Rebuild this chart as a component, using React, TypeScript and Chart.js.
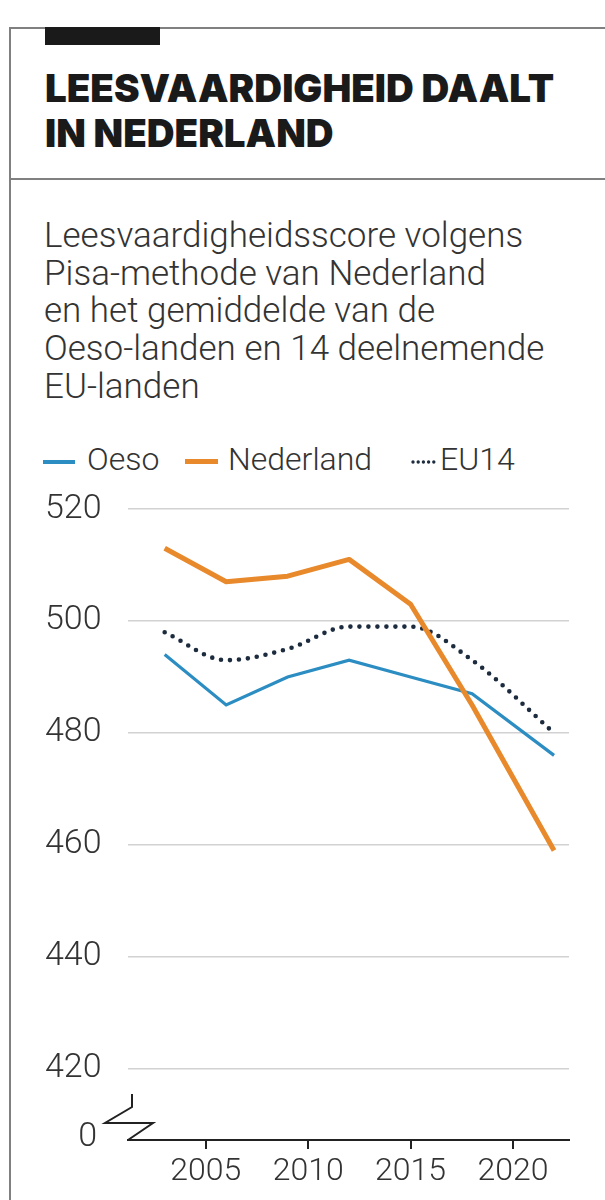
import React, { useEffect, useRef } from "react";
import { Chart, registerables } from "chart.js";

Chart.register(...registerables);

// ---- data ----
const years = [2003, 2006, 2009, 2012, 2015, 2018, 2022];
const oeso = [494, 485, 490, 493, 490, 487, 476];
const nederland = [513, 507, 508, 511, 503, 485, 459];
const eu14 = [498, 493, 495, 499, 499, 493, 480];
const yTicks = [420, 440, 460, 480, 500, 520];
const xTicks = [2005, 2010, 2015, 2020];
const breakLabel = "0";
const titleLines = ["LEESVAARDIGHEID DAALT", "IN NEDERLAND"];
const subtitleLines = [
  "Leesvaardigheidsscore volgens",
  "Pisa-methode van Nederland",
  "en het gemiddelde van de",
  "Oeso-landen en 14 deelnemende",
  "EU-landen",
];
const legendLabels = ["Oeso", "Nederland", "EU14"];

const BLUE = "#2b8dc2";
const ORANGE = "#e8892b";
const NAVY = "#1c2b3d";
const TEXT = "#333333";

export default function App() {
  const canvasRef = useRef<HTMLCanvasElement>(null);

  useEffect(() => {
    if (!canvasRef.current) return;
    const pts = (vals: number[]) => years.map((x, i) => ({ x, y: vals[i] }));

    const breakPlugin = {
      id: "axisBreak",
      afterDraw(chart: any) {
        const { ctx, chartArea } = chart;
        const x0 = chartArea.left;
        const y0 = chartArea.bottom;
        ctx.save();
        ctx.strokeStyle = "#222";
        ctx.lineWidth = 2;
        ctx.beginPath();
        ctx.moveTo(x0 + 4, y0 - 46);
        ctx.lineTo(x0 + 4, y0 - 33);
        ctx.lineTo(x0 - 23, y0 - 17);
        ctx.lineTo(x0 + 25, y0 - 17);
        ctx.lineTo(x0, y0);
        ctx.stroke();
        ctx.fillStyle = TEXT;
        ctx.font = "300 34px Roboto";
        ctx.textAlign = "right";
        ctx.textBaseline = "middle";
        ctx.fillText(breakLabel, x0 - 31, y0 - 3);
        ctx.restore();
      },
    };

    const chart = new Chart(canvasRef.current, {
      type: "line",
      data: {
        datasets: [
          {
            label: legendLabels[1],
            data: pts(nederland),
            borderColor: ORANGE,
            borderWidth: 5,
            pointRadius: 0,
            tension: 0,
            borderJoinStyle: "round",
          },
          {
            label: legendLabels[0],
            data: pts(oeso),
            borderColor: BLUE,
            borderWidth: 3.2,
            pointRadius: 0,
            tension: 0,
          },
          {
            label: legendLabels[2],
            data: pts(eu14),
            borderColor: NAVY,
            borderWidth: 4.6,
            borderDash: [0, 9],
            borderCapStyle: "round",
            pointRadius: 0,
            cubicInterpolationMode: "monotone",
          },
        ],
      },
      options: {
        animation: false,
        responsive: false,
        maintainAspectRatio: false,
        devicePixelRatio: 1,
        layout: { padding: { left: 45, top: 39, right: 36, bottom: 0 } },
        plugins: { legend: { display: false }, tooltip: { enabled: false } },
        scales: {
          x: {
            type: "linear",
            position: "bottom",
            min: 2001.21,
            max: 2022.73,
            afterBuildTicks: (s: any) => {
              s.ticks = xTicks.map((v) => ({ value: v }));
            },
            afterFit: (s: any) => {
              s.height = 60;
            },
            ticks: {
              callback: (v: any) => String(v),
              color: TEXT,
              font: { family: "Roboto", size: 32, weight: "300" },
              padding: 4,
              maxRotation: 0,
              autoSkip: false,
            },
            grid: {
              drawOnChartArea: false,
              drawTicks: true,
              tickLength: 9,
              color: "#222",
              lineWidth: 2,
            },
            border: { display: true, color: "#222", width: 2 },
          },
          y: {
            type: "linear",
            min: 407.3,
            max: 520,
            afterBuildTicks: (s: any) => {
              s.ticks = yTicks.map((v) => ({ value: v }));
            },
            afterFit: (s: any) => {
              s.width = 83;
            },
            ticks: {
              callback: (v: any) => String(v),
              color: TEXT,
              font: { family: "Roboto", size: 34, weight: "300" },
              crossAlign: "far",
              padding: 0,
            },
            grid: { color: "#d2d2d2", lineWidth: 1.5, drawTicks: false },
            border: { display: false },
          },
        },
      },
      plugins: [breakPlugin],
    });
    return () => chart.destroy();
  }, []);

  const abs = (s: React.CSSProperties): React.CSSProperties => ({ position: "absolute", ...s });

  return (
    <div
      style={{
        position: "absolute",
        left: 0,
        top: 0,
        width: 605,
        height: 1200,
        overflow: "hidden",
        background: "#fff",
      }}
    >
      {/* frame */}
      <div
        style={abs({
          left: 9,
          top: 27,
          width: 700,
          height: 1300,
          borderLeft: "2px solid #808080",
          borderTop: "2px solid #808080",
        })}
      />
      <div style={abs({ left: 9, top: 178, width: 700, height: 2, background: "#808080" })} />
      <div style={abs({ left: 45, top: 27, width: 115, height: 18, background: "#1a1a1a" })} />

      {/* title */}
      <div
        style={abs({
          left: 45,
          top: 66,
          fontFamily: "Inter, Roboto, sans-serif",
          fontWeight: 900,
          fontSize: 38.5,
          lineHeight: "45px",
          color: "#1a1a1a",
          whiteSpace: "nowrap",
        })}
      >
        {titleLines.map((t) => (
          <div key={t}>{t}</div>
        ))}
      </div>

      {/* subtitle */}
      <div
        style={abs({
          left: 44,
          top: 217,
          fontFamily: "Roboto, sans-serif",
          fontWeight: 300,
          fontSize: 35,
          lineHeight: "37.7px",
          color: TEXT,
          whiteSpace: "nowrap",
        })}
      >
        {subtitleLines.map((t) => (
          <div key={t}>{t}</div>
        ))}
      </div>

      {/* legend */}
      <div style={abs({ left: 43, top: 460, width: 32, height: 4, background: BLUE })} />
      <div style={abs({ left: 185, top: 459, width: 33, height: 5, background: ORANGE })} />
      <svg style={abs({ left: 410, top: 457, width: 28, height: 10 })} width={28} height={10}>
        <line x1={3} y1={5} x2={24} y2={5} stroke={NAVY} strokeWidth={3.4} strokeLinecap="round" strokeDasharray="0 5.2" />
      </svg>
      {[
        { t: legendLabels[0], x: 87 },
        { t: legendLabels[1], x: 228 },
        { t: legendLabels[2], x: 440 },
      ].map((it) => (
        <div
          key={it.t}
          style={abs({
            left: it.x,
            top: 440,
            fontFamily: "Roboto, sans-serif",
            fontWeight: 300,
            fontSize: 32,
            lineHeight: "normal",
            color: TEXT,
            whiteSpace: "nowrap",
          })}
        >
          {it.t}
        </div>
      ))}

      <canvas
        ref={canvasRef}
        width={605}
        height={730}
        style={abs({ left: 0, top: 470, width: 605, height: 730, display: "block" })}
      />
    </div>
  );
}
